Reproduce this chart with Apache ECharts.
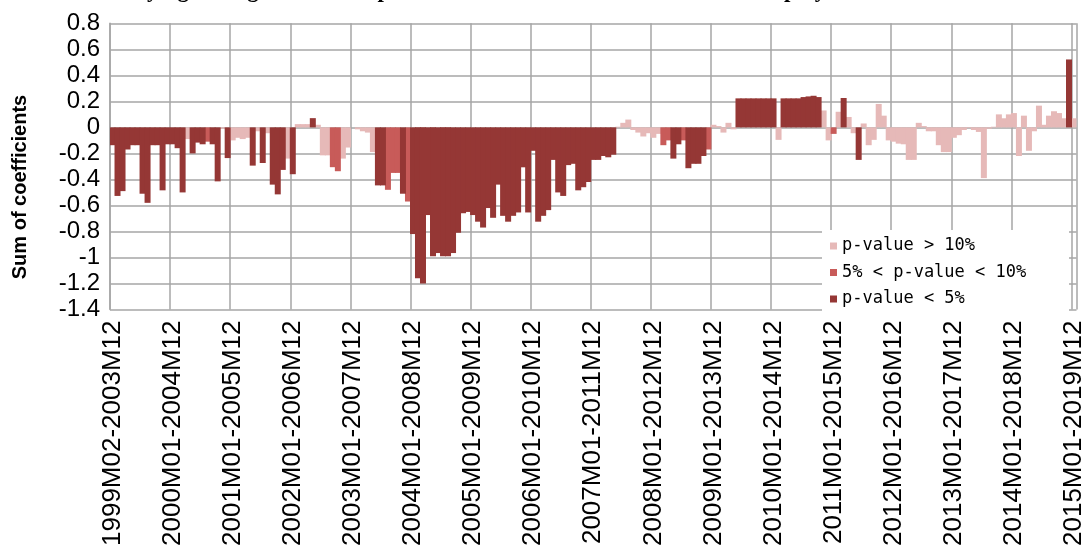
<!DOCTYPE html>
<html>
<head>
<meta charset="utf-8">
<script src="https://cdn.jsdelivr.net/npm/echarts@6/dist/echarts.min.js"></script>
<style>
html,body{margin:0;padding:0;background:#fff;}
#c{width:1087px;height:549px;}
</style>
</head>
<body>
<div id="c"></div>
<script>
// Tick labels shown on the category axis (every 12th window)
const tickLabels = [
  "1999M02-2003M12","2000M01-2004M12","2001M01-2005M12","2002M01-2006M12",
  "2003M01-2007M12","2004M01-2008M12","2005M01-2009M12","2006M01-2010M12",
  "2007M01-2011M12","2008M01-2012M12","2009M01-2013M12","2010M01-2014M12",
  "2011M01-2015M12","2012M01-2016M12","2013M01-2017M12","2014M01-2018M12",
  "2015M01-2019M12"
];

// Sum of coefficients per rolling window
const values = [
  -0.137,-0.527,-0.49,-0.17,-0.137,-0.137,-0.51,-0.58,-0.137,-0.137,-0.484,-0.13,
  -0.13,-0.16,-0.50,-0.09,-0.2,-0.117,-0.13,-0.11,-0.13,-0.415,-0.01,-0.236,
  -0.10,-0.08,-0.09,-0.08,-0.294,-0.03,-0.274,-0.045,-0.44,-0.515,-0.327,-0.24,
  -0.36,0.025,0.025,0.025,0.071,0.02,-0.215,-0.215,-0.306,-0.337,-0.24,-0.155,
  0,-0.015,-0.03,-0.04,-0.19,-0.446,-0.446,-0.48,-0.35,-0.35,-0.51,-0.57,
  -0.82,-1.16,-1.20,-0.674,-0.99,-0.966,-0.99,-0.99,-0.966,-0.81,-0.66,-0.65,
  -0.674,-0.725,-0.77,-0.62,-0.695,-0.44,-0.68,-0.725,-0.68,-0.654,-0.307,-0.654,
  -0.18,-0.725,-0.68,-0.636,-0.25,-0.50,-0.527,-0.29,-0.28,-0.484,-0.46,-0.42,
  -0.25,-0.25,-0.22,-0.23,-0.21,0.005,0.035,0.06,-0.02,-0.04,-0.07,-0.045,
  -0.08,-0.05,-0.137,-0.10,-0.24,-0.13,-0.10,-0.314,-0.28,-0.28,-0.22,-0.17,
  0.02,0.01,-0.04,0.035,-0.015,0.223,0.223,0.223,0.223,0.223,0.223,0.223,
  0.223,-0.096,0.223,0.223,0.223,0.223,0.233,0.238,0.243,0.233,0.13,-0.10,
  -0.05,0.12,0.226,0.08,-0.045,-0.25,0.03,-0.137,-0.096,0.18,0.09,-0.10,
  -0.11,-0.125,-0.13,-0.25,-0.25,0.035,0.01,-0.03,-0.03,-0.137,-0.19,-0.19,
  -0.08,-0.06,-0.02,-0.005,-0.02,-0.035,-0.39,-0.01,0.005,0.10,0.07,0.10,
  0.11,-0.22,0.09,-0.18,-0.03,0.167,0.02,0.09,0.124,0.11,0.07,0.522,
  0.07
];

// Significance class per window: P = p>10%, M = 5%<p<10%, D = p<5%
const pClass = [
  "D","D","D","D","D","D","D","D","D","D","D","D",
  "D","D","D","P","D","D","D","M","D","D","P","D",
  "P","P","P","P","D","P","D","P","D","D","D","P",
  "D","P","P","P","D","P","P","P","M","M","P","P",
  "P","P","P","P","P","D","D","M","M","M","D","M",
  "D","D","D","D","D","D","D","D","D","D","D","D",
  "D","D","D","D","D","D","D","D","D","D","D","D",
  "D","D","D","D","D","D","D","D","D","D","D","D",
  "D","D","D","D","D","P","P","P","P","P","P","P",
  "P","P","M","M","D","D","M","D","D","D","D","M",
  "P","P","P","P","P","D","D","D","D","D","D","D",
  "D","P","D","D","D","D","D","D","D","D","P","P",
  "M","P","D","P","P","D","P","P","P","P","P","P",
  "P","P","P","P","P","P","P","P","P","P","P","P",
  "P","P","P","P","P","P","P","P","P","P","P","P",
  "P","P","P","P","P","P","P","P","P","P","P","D",
  "P"
];

const seriesNames = ["p-value > 10%", "5% < p-value < 10%", "p-value < 5%"];
const seriesKeys = ["P", "M", "D"];
const seriesColors = ["#E6B9B8", "#C85B59", "#953735"];

// Window names: monthly rolling windows; every 12th uses the tick label text
function ym(y, m) { return y + "M" + (m < 10 ? "0" + m : "" + m); }
const categories = values.map(function (v, k) {
  if (k % 12 === 0) return tickLabels[k / 12];
  const s = 1999 * 12 + k;
  const e = 2003 * 12 + 11 + k;
  return ym(Math.floor(s / 12), s % 12 + 1) + "-" + ym(Math.floor(e / 12), e % 12 + 1);
});

const chart = echarts.init(document.getElementById('c'), null, {renderer: 'canvas'});

const series = seriesKeys.map(function (key, si) {
  return {
    name: seriesNames[si],
    type: 'bar',
    barGap: '-100%',
    barWidth: 6,
    itemStyle: {color: seriesColors[si]},
    emphasis: {disabled: true},
    data: values.map(function (v, i) { return pClass[i] === key ? v : '-'; })
  };
});

const gridCol = '#A6A6A6';

chart.setOption({
  animation: false,
  backgroundColor: '#fff',
  grid: {left: 110, right: 8.7, top: 23.3, bottom: 236.3, containLabel: false},
  legend: {
    orient: 'vertical',
    left: 824,
    top: 230,
    padding: [7, 6, 5, 6],
    itemGap: 8.5,
    itemWidth: 7,
    itemHeight: 7,
    icon: 'rect',
    data: seriesNames,
    textStyle: {fontFamily: 'DejaVu Sans Mono', fontSize: 17, color: '#000', lineHeight: 18},
    selectedMode: false,
    z: 5
  },
  xAxis: {
    type: 'category',
    data: categories,
    boundaryGap: true,
    axisLine: {show: false, onZero: false},
    axisTick: {show: false},
    splitLine: {show: true, interval: 11, lineStyle: {color: gridCol, width: 1.5}},
    axisLabel: {
      interval: 11,
      rotate: 90,
      margin: 11,
      fontFamily: 'Liberation Sans',
      fontSize: 26,
      color: '#000'
    }
  },
  yAxis: {
    type: 'value',
    min: -1.4,
    max: 0.8,
    interval: 0.2,
    axisLine: {show: true, lineStyle: {color: gridCol, width: 1.5}},
    axisTick: {show: false},
    splitLine: {show: true, lineStyle: {color: gridCol, width: 1.5}},
    axisLabel: {
      margin: 10,
      fontFamily: 'Liberation Sans',
      fontSize: 24,
      color: '#000',
      formatter: function (v) { return String(Math.round(v * 10) / 10); }
    }
  },
  graphic: [
    {
      type: 'rect',
      z: 3,
      shape: {x: 822, y: 230, width: 247, height: 82},
      style: {fill: '#fff'}
    },
    {
      type: 'text',
      z: 5,
      x: 20,
      y: 187,
      rotation: Math.PI / 2,
      style: {
        text: 'Sum of coefficients',
        font: 'bold 20px "Liberation Sans"',
        fill: '#000',
        align: 'center',
        verticalAlign: 'middle'
      }
    },
    {
      type: 'text',
      z: 5,
      x: -40,
      y: -9,
      style: {
        text: 'Figure 1: Time-varying Granger causal impact of stock market returns on the unemployment rate.',
        font: 'bold 23px "Liberation Serif"',
        fill: '#000',
        align: 'left',
        verticalAlign: 'middle'
      }
    }
  ],
  series: series
});
</script>
</body>
</html>
